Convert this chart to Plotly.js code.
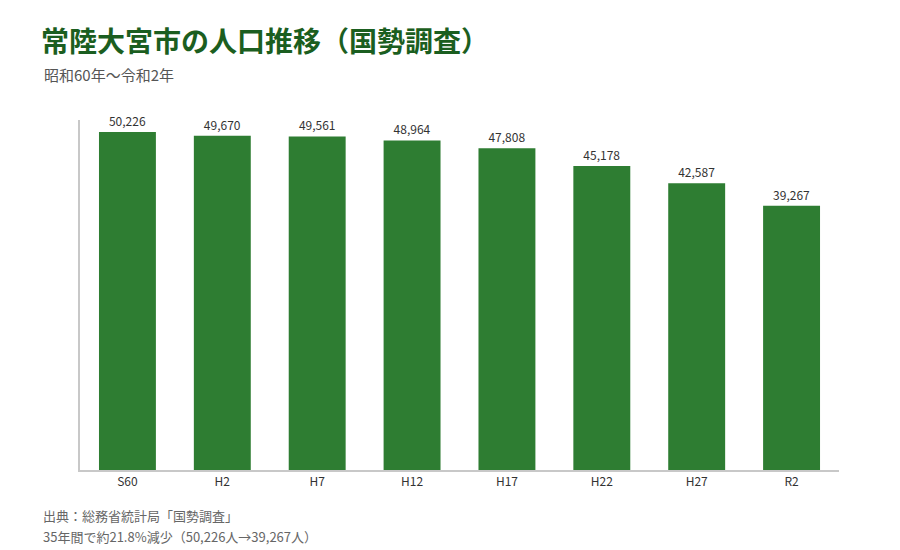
<!DOCTYPE html>
<html>
<head>
<meta charset="utf-8">
<script src="https://cdn.plot.ly/plotly-3.0.1.min.js"></script>
<style>
  html, body { margin: 0; padding: 0; background: #fff; }
  #chart { width: 900px; height: 550px; }
</style>
</head>
<body>
<div id="chart"></div>
<script>
// 国勢調査の年（和暦）と人口
const years = ['S60', 'H2', 'H7', 'H12', 'H17', 'H22', 'H27', 'R2'];
const population = [50226, 49670, 49561, 48964, 47808, 45178, 42587, 39267];

const font = '"Noto Sans CJK JP", "Noto Sans", sans-serif';

var trace = {
    x: years,
    y: population,
    type: 'bar',
    width: 0.6,
    marker: { color: '#2e7d32' },
    text: population.map(v => v.toLocaleString('en-US')),
    textposition: 'outside',
    textfont: { family: font, size: 12, color: '#333' },
    cliponaxis: false,
    hoverinfo: 'x+y'
};

var layout = {
    width: 900,
    height: 550,
    font: { family: font, color: '#333' },
    paper_bgcolor: '#ffffff',
    plot_bgcolor: '#ffffff',
    showlegend: false,
    margin: { l: 80, r: 61, t: 120, b: 80 },
    bargap: 0.4,
    xaxis: {
        showline: true,
        linecolor: '#c8c8c8',
        linewidth: 2,
        ticks: '',
        tickfont: { family: font, size: 12, color: '#333' },
        showgrid: false,
        zeroline: false
    },
    yaxis: {
        range: [0, 52000],
        showline: true,
        linecolor: '#c8c8c8',
        linewidth: 2,
        showticklabels: false,
        ticks: '',
        showgrid: false,
        zeroline: false
    },
    annotations: [
        {
            text: '<b>常陸大宮市の人口推移（国勢調査）</b>',
            xref: 'paper', yref: 'paper', x: -0.054, y: 1.2286,
            xanchor: 'left', yanchor: 'middle', showarrow: false,
            font: { family: font, size: 28, color: '#1b5e20' }
        },
        {
            text: '昭和60年〜令和2年',
            xref: 'paper', yref: 'paper', x: -0.05, y: 1.1314,
            xanchor: 'left', yanchor: 'middle', showarrow: false,
            font: { family: font, size: 15, color: '#555' }
        },
        {
            text: '出典：総務省統計局「国勢調査」',
            xref: 'paper', yref: 'paper', x: -0.051, y: -0.131,
            xanchor: 'left', yanchor: 'middle', showarrow: false,
            font: { family: font, size: 13, color: '#666' }
        },
        {
            text: '35年間で約21.8%減少（50,226人→39,267人）',
            xref: 'paper', yref: 'paper', x: -0.051, y: -0.189,
            xanchor: 'left', yanchor: 'middle', showarrow: false,
            font: { family: font, size: 13, color: '#666' }
        }
    ]
};

var config = { staticPlot: true };

Plotly.newPlot('chart', [trace], layout, config);
</script>
</body>
</html>
